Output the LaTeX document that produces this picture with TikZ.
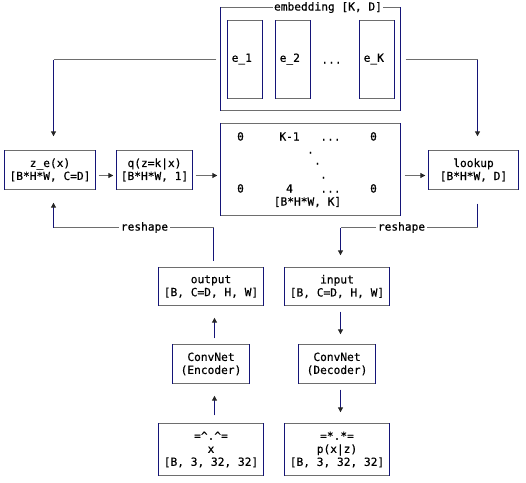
\documentclass[tikz,border=0pt]{standalone}
\usepackage{fontspec}
\setmonofont[FakeBold=0.5]{DejaVu Sans Mono}
\usetikzlibrary{arrows.meta}
\definecolor{hcol}{RGB}{110,110,110}
\definecolor{vcol}{RGB}{20,20,120}
\begin{document}
\begin{tikzpicture}[x=1pt,y=-1pt,
 mono/.style={font=\fontsize{11.2}{13}\selectfont\ttfamily},
 hl/.style={draw=hcol,line width=1pt},
 vl/.style={draw=vcol,line width=1.1pt},
 tip/.style={-{Triangle[width=5pt,length=5pt,color=black!85]}},
 box/.style 2 args={mono, inner sep=0pt, align=center, minimum width=#1pt, minimum height=#2pt,
   append after command={
     (\tikzlastnode.north west) edge[hl] (\tikzlastnode.north east)
     (\tikzlastnode.south west) edge[hl] (\tikzlastnode.south east)
     (\tikzlastnode.north west) edge[vl] (\tikzlastnode.south west)
     (\tikzlastnode.north east) edge[vl] (\tikzlastnode.south east)}},
 txt/.style={mono, inner sep=0pt},
 lab/.style={mono, fill=white, inner sep=1.5pt}]
\useasboundingbox (-0.5,-0.5) rectangle (525.5,481.5);

% embedding
\node[box={180}{103}] (emb) at (310,58.5) {};
\node[box={35}{78}] (e1) at (244.5,59) {};
\node[box={35}{78}] (e2) at (292.5,59) {};
\node[box={35}{78}] (eK) at (376.5,59) {};
\node[txt, anchor=west] (e1t) at (231,58.5) {e\_1};
\node[txt, anchor=west] (e2t) at (279,58.5) {e\_2};
\node[txt, anchor=west] (eKt) at (363,58.5) {e\_K};
\node[txt, anchor=base] (edots) at (331,63) {...};
\node[lab] (embt) at (327.5,7) {embedding [K, D]};

% middle row
\node[box={91}{39}] (ze) at (49.5,169.5) {z\_e(x)\\{}[B*H*W, C=D]};
\node[box={76}{39}] (q) at (154,169.5) {q(z=k|x)\\{}[B*H*W, 1]};
\node[box={180}{92}] (mat) at (310,169) {};
\node[box={90}{39}] (lk) at (473,169.5) {lookup\\{}[B*H*W, D]};

% matrix contents
\node[txt, anchor=base] (m11) at (240,140) {0};
\node[txt, anchor=base] (m12) at (289,140) {K-1};
\node[txt, anchor=base] (m13) at (330,140) {...};
\node[txt, anchor=base] (m14) at (373,140) {0};
\node[txt, anchor=base] (d1) at (310,153) {.};
\node[txt, anchor=base] (d2) at (317,164) {.};
\node[txt, anchor=base] (d3) at (323,178) {.};
\node[txt, anchor=base] (m21) at (240,192) {0};
\node[txt, anchor=base] (m22) at (289,192) {4};
\node[txt, anchor=base] (m23) at (330,192) {...};
\node[txt, anchor=base] (m24) at (373,192) {0};
\node[txt, anchor=base] (mdim) at (307,205) {[B*H*W, K]};

% lower boxes
\node[box={105}{38}] (out) at (210.5,286) {output\\{}[B, C=D, H, W]};
\node[box={105}{38}] (inp) at (336.5,286) {input\\{}[B, C=D, H, W]};
\node[box={77}{39}] (enc) at (210.5,363.5) {ConvNet\\(Encoder)};
\node[box={77}{39}] (dec) at (336.5,363.5) {ConvNet\\(Decoder)};
\node[box={105}{52}] (xin) at (210.5,449) {=\textasciicircum.\textasciicircum=\\x\\{}[B, 3, 32, 32]};
\node[box={105}{52}] (px) at (336.5,449) {=*.*=\\p(x|z)\\{}[B, 3, 32, 32]};

% top connectors
\coordinate (tl) at (53,59);
\coordinate (tr) at (477,59);
\draw[hl, shorten <=4pt] (emb.west |- tl) -- (tl);
\draw[vl, tip, shorten >=14pt] (tl) -- (tl |- ze.north);
\draw[hl, shorten <=5pt] (emb.east |- tr) -- (tr);
\draw[vl, tip, shorten >=14pt] (tr) -- (tr |- lk.north);

% row arrows
\coordinate (r1) at (0,175);
\draw[hl, tip, shorten <=3pt, shorten >=3pt] (ze.east |- r1) -- (q.west |- r1);
\draw[hl, tip, shorten <=3pt, shorten >=3pt] (q.east |- r1) -- (mat.west |- r1);
\draw[hl, tip, shorten <=4pt, shorten >=3pt] (mat.east |- r1) -- (lk.west |- r1);

% reshape left
\coordinate (bl) at (53,227);
\coordinate (bm) at (213,227);
\draw[vl, tip, shorten >=13pt] (bl) -- (bl |- ze.south);
\draw[hl] (bl) -- (bm);
\draw[vl, shorten >=6pt] (bm) -- (bm |- out.north);
\node[lab] (rsl) at (144,227) {reshape};

% reshape right
\coordinate (br) at (477,227);
\coordinate (bn) at (340,227);
\draw[vl, shorten <=14pt] (br |- lk.south) -- (br);
\draw[hl] (br) -- (bn);
\draw[vl, tip, shorten >=12pt] (bn) -- (bn |- inp.north);
\node[lab] (rsr) at (401,227) {reshape};

% vertical arrows
\coordinate (cl) at (214,0);
\coordinate (cr) at (340,0);
\draw[vl, tip, shorten <=6pt, shorten >=12pt] (cl |- enc.north) -- (cl |- out.south);
\draw[vl, tip, shorten <=8pt, shorten >=12pt] (cl |- xin.north) -- (cl |- enc.south);
\draw[vl, tip, shorten <=6pt, shorten >=10pt] (cr |- inp.south) -- (cr |- dec.north);
\draw[vl, tip, shorten <=6pt, shorten >=11pt] (cr |- dec.south) -- (cr |- px.north);
\end{tikzpicture}
\end{document}
